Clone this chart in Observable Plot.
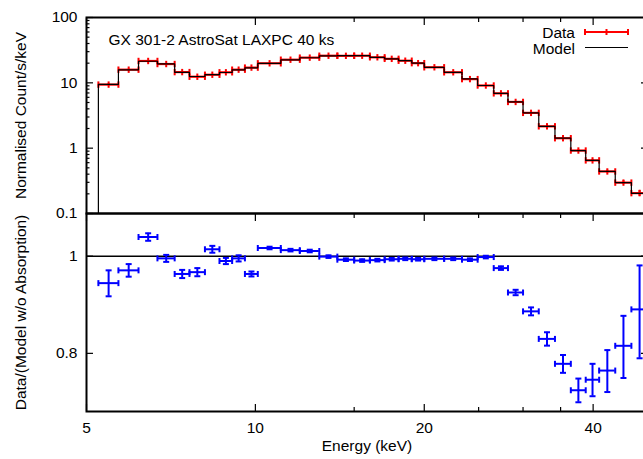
<!DOCTYPE html>
<html><head><meta charset="utf-8">
<script src="https://cdn.jsdelivr.net/npm/d3@7"></script>
<script src="https://cdn.jsdelivr.net/npm/@observablehq/plot@0.6"></script>
<style>
html,body{margin:0;padding:0;background:#fff;overflow:hidden;}
#wrap{position:relative;width:643px;height:459px;overflow:hidden;font-family:"Liberation Sans",Arial,sans-serif;}
#wrap svg{position:absolute;left:0;overflow:visible;}
</style></head><body><div id="wrap"></div>
<script>
// ---- data ----
const binEdges = [5.25, 5.70, 6.19, 6.69, 7.18, 7.63, 8.13, 8.63, 9.09, 9.58, 10.1, 11.1, 12.0, 13.0, 14.0, 15.0, 16.0, 17.0, 18.0, 19.0, 20.0, 21.7, 23.35, 24.9, 26.6, 28.2, 30.0, 32.0, 34.2, 36.5, 38.8, 41.0, 43.8, 46.8, 50.0];
const modelRate = [9.5, 15.8, 21.4, 19.5, 14.5, 12.5, 13.4, 14.4, 15.8, 17.0, 19.8, 22.5, 24.2, 25.9, 26.0, 26.0, 24.5, 23.3, 21.8, 20.1, 17.3, 14.5, 11.5, 9.1, 6.9, 5.1, 3.48, 2.16, 1.42, 0.92, 0.65, 0.44, 0.297, 0.203];
const dataRate  = [9.4, 15.9, 21.6, 19.4, 14.6, 12.4, 13.3, 14.5, 15.9, 17.1, 19.9, 22.6, 24.3, 26.0, 25.9, 26.0, 24.6, 23.3, 21.8, 20.0, 17.3, 14.5, 11.4, 9.1, 6.9, 5.1, 3.47, 2.16, 1.42, 0.92, 0.65, 0.44, 0.297, 0.205];
const ratio     = [0.940, 0.968, 1.045, 0.995, 0.960, 0.964, 1.016, 0.989, 0.995, 0.960, 1.019, 1.014, 1.012, 0.999, 0.992, 0.990, 0.991, 0.993, 0.994, 0.993, 0.994, 0.994, 0.992, 0.998, 0.973, 0.920, 0.881, 0.827, 0.781, 0.735, 0.753, 0.769, 0.814, 0.885];
const ratioErr  = [0.028, 0.014, 0.009, 0.008, 0.009, 0.009, 0.008, 0.007, 0.007, 0.0055, 0.003, 0.003, 0.003, 0.003, 0.003, 0.003, 0.003, 0.003, 0.003, 0.003, 0.003, 0.003, 0.003, 0.003, 0.004, 0.0057, 0.008, 0.0127, 0.016, 0.020, 0.028, 0.037, 0.058, 0.094];
const xMajorTicks = [5, 10, 20, 40];
const xTickLabels = ["5", "10", "20", "40"];
const xMinorTicks = [15, 25, 30, 35];
const rateTicks = [0.1, 1, 10, 100];
const rateTickLabels = ["0.1", "1", "10", "100"];
const ratioTicks = [0.8, 1];
const ratioTickLabels = ["0.8", "1"];
const titleText = "GX 301-2 AstroSat LAXPC 40 ks";
const xLabel = "Energy (keV)";
const yLabelTop = "Normalised Count/s/keV";
const yLabelBottom = "Data/(Model w/o Absorption)";
const legendLabels = ["Data", "Model"];

// ---- derived tables ----
const xDomain = [5, 50];
const topDomain = [0.1, 100];
const ratioDomain = [0.70, 1.103];
const bins = modelRate.map((m, i) => ({
  lo: binEdges[i], hi: binEdges[i + 1], mid: (binEdges[i] + binEdges[i + 1]) / 2,
  model: m, data: dataRate[i], rel: ratioErr[i] / ratio[i],
  ratio: ratio[i], rlo: ratio[i] - ratioErr[i], rhi: ratio[i] + ratioErr[i]
}));
const modelPts = [{x: binEdges[0], y: topDomain[0]}]
  .concat(bins.map(b => ({x: b.lo, y: b.model})))
  .concat([{x: bins[bins.length - 1].hi, y: bins[bins.length - 1].model}]);
const minorRate = [];
for (const dec of [0.1, 1, 10]) for (let k = 2; k <= 9; k++) minorRate.push(+(dec * k).toPrecision(3));
const rateLabelRows = rateTicks.map((v, i) => ({v, label: rateTickLabels[i]}));
const ratioLabelRows = ratioTicks.map((v, i) => ({v, label: ratioTickLabels[i]}));

const labelOf = (ticks, labels) => d => { const i = ticks.findIndex(t => Math.abs(t - d) < 1e-9); return i >= 0 ? labels[i] : ""; };

const vtick = {draw(ctx, size) { const r = Math.sqrt(size / Math.PI); ctx.moveTo(0, -r); ctx.lineTo(0, r); }};
const htick = {draw(ctx, size) { const r = Math.sqrt(size / Math.PI); ctx.moveTo(-r, 0); ctx.lineTo(r, 0); }};

const RED = "#ff0000", BLUE = "#0000ff";
const FONT = "15.5px";
const svgStyle = {background: "transparent", maxWidth: "none", overflow: "visible", fontFamily: '"Liberation Sans", Arial, sans-serif', fontSize: FONT, color: "#000"};
const noText = () => "";
const tw = 1.2;

const topPlot = Plot.plot({
  width: 660, height: 230,
  marginLeft: 86, marginRight: 13, marginTop: 17, marginBottom: 17,
  style: svgStyle,
  x: {type: "log", domain: xDomain},
  y: {type: "log", domain: topDomain},
  marks: [
    Plot.ruleY(bins, {x1: "lo", x2: "hi", y: "data", stroke: RED, strokeWidth: 2.2}),
    Plot.ruleX(bins, {x: "mid", y1: d => d.data * (1 - d.rel), y2: d => d.data * (1 + d.rel), stroke: RED, strokeWidth: 2}),
    Plot.dot(bins, {x: "lo", y: "data", symbol: vtick, r: 3.2, fill: "none", stroke: RED, strokeWidth: 2}),
    Plot.dot(bins, {x: "hi", y: "data", symbol: vtick, r: 3.2, fill: "none", stroke: RED, strokeWidth: 2}),
    Plot.dot(bins, {x: "mid", y: "data", symbol: vtick, r: 3.2, fill: "none", stroke: RED, strokeWidth: 2}),
    Plot.line(modelPts, {x: "x", y: "y", curve: "step-after", stroke: "#000", strokeWidth: 1.2}),
    Plot.axisY(rateTicks, {anchor: "left", tickSize: -7, tickFormat: noText, label: null, strokeWidth: tw}),
    Plot.axisY(minorRate, {anchor: "left", tickSize: -3.5, tickFormat: noText, label: null, strokeWidth: tw}),
    Plot.axisY(rateTicks, {anchor: "right", tickSize: -7, tickFormat: noText, label: null, strokeWidth: tw}),
    Plot.axisY(minorRate, {anchor: "right", tickSize: -3.5, tickFormat: noText, label: null, strokeWidth: tw}),
    Plot.axisX(xMajorTicks, {anchor: "top", tickSize: -7, tickFormat: noText, label: null, strokeWidth: tw}),
    Plot.axisX(xMinorTicks, {anchor: "top", tickSize: -4, tickFormat: noText, label: null, strokeWidth: tw}),
    Plot.text(rateLabelRows, {y: "v", text: "label", frameAnchor: "left", textAnchor: "end", dx: -9, fontSize: FONT}),
    Plot.frame({stroke: "#000", strokeWidth: 2}),
    Plot.text([titleText], {text: d => d, frameAnchor: "top-left", dx: 22, dy: 16, textAnchor: "start", fontSize: FONT}),
    Plot.text([yLabelTop], {text: d => d, frameAnchor: "left", dx: -65, rotate: -90, textAnchor: "middle", fontSize: FONT})
  ]
});
topPlot.style.top = "0px";

const bottomPlot = Plot.plot({
  width: 660, height: 248,
  marginLeft: 86, marginRight: 13, marginTop: 2, marginBottom: 48,
  style: svgStyle,
  x: {type: "log", domain: xDomain},
  y: {type: "log", domain: ratioDomain},
  marks: [
    Plot.ruleY([1], {stroke: "#000", strokeWidth: 1.5}),
    Plot.ruleY(bins, {x1: "lo", x2: "hi", y: "ratio", stroke: BLUE, strokeWidth: 2}),
    Plot.ruleX(bins, {x: "mid", y1: "rlo", y2: "rhi", stroke: BLUE, strokeWidth: 2}),
    Plot.dot(bins, {x: "lo", y: "ratio", symbol: vtick, r: 3, fill: "none", stroke: BLUE, strokeWidth: 2}),
    Plot.dot(bins, {x: "hi", y: "ratio", symbol: vtick, r: 3, fill: "none", stroke: BLUE, strokeWidth: 2}),
    Plot.dot(bins, {x: "mid", y: "rlo", symbol: htick, r: 3, fill: "none", stroke: BLUE, strokeWidth: 2}),
    Plot.dot(bins, {x: "mid", y: "rhi", symbol: htick, r: 3, fill: "none", stroke: BLUE, strokeWidth: 2}),
    Plot.axisY(ratioTicks, {anchor: "left", tickSize: -7, tickFormat: noText, label: null, strokeWidth: tw}),
    Plot.axisY(ratioTicks, {anchor: "right", tickSize: -7, tickFormat: noText, label: null, strokeWidth: tw}),
    Plot.text(ratioLabelRows, {y: "v", text: "label", frameAnchor: "left", textAnchor: "end", dx: -9, fontSize: FONT}),
    Plot.axisX(xMajorTicks, {anchor: "bottom", tickSize: -7, tickPadding: 17, tickFormat: labelOf(xMajorTicks, xTickLabels), label: null, strokeWidth: tw, fontSize: FONT}),
    Plot.axisX(xMinorTicks, {anchor: "bottom", tickSize: -4, tickFormat: noText, label: null, strokeWidth: tw}),
    Plot.axisX(xMajorTicks, {anchor: "top", tickSize: -7, tickFormat: noText, label: null, strokeWidth: tw}),
    Plot.axisX(xMinorTicks, {anchor: "top", tickSize: -4, tickFormat: noText, label: null, strokeWidth: tw}),
    Plot.frame({stroke: "#000", strokeWidth: 2}),
    Plot.text([xLabel], {text: d => d, frameAnchor: "bottom", dy: 39, fontSize: FONT}),
    Plot.text([yLabelBottom], {text: d => d, frameAnchor: "left", dx: -65, rotate: -90, textAnchor: "middle", fontSize: FONT})
  ]
});
bottomPlot.style.top = "211px";

// legend
const ns = "http://www.w3.org/2000/svg";
const leg = document.createElementNS(ns, "svg");
leg.setAttribute("width", 643); leg.setAttribute("height", 60);
leg.style.top = "0px";
leg.style.fontFamily = '"Liberation Sans", Arial, sans-serif';
leg.style.fontSize = FONT;
const mk = (tag, attrs, txt) => { const e = document.createElementNS(ns, tag); for (const k in attrs) e.setAttribute(k, attrs[k]); if (txt) e.textContent = txt; leg.appendChild(e); return e; };
mk("text", {x: 575, y: 32, "text-anchor": "end", "dominant-baseline": "central"}, legendLabels[0]);
mk("text", {x: 575, y: 48, "text-anchor": "end", "dominant-baseline": "central"}, legendLabels[1]);
mk("path", {d: "M585,32H628M585,29V35M628,29V35M606.5,29V35", stroke: RED, "stroke-width": 2, fill: "none"});
mk("path", {d: "M585,47.5H628", stroke: "#000", "stroke-width": 1.2, fill: "none"});

const wrap = document.getElementById("wrap");
wrap.appendChild(topPlot);
wrap.appendChild(bottomPlot);
wrap.appendChild(leg);
</script>
</body></html>
